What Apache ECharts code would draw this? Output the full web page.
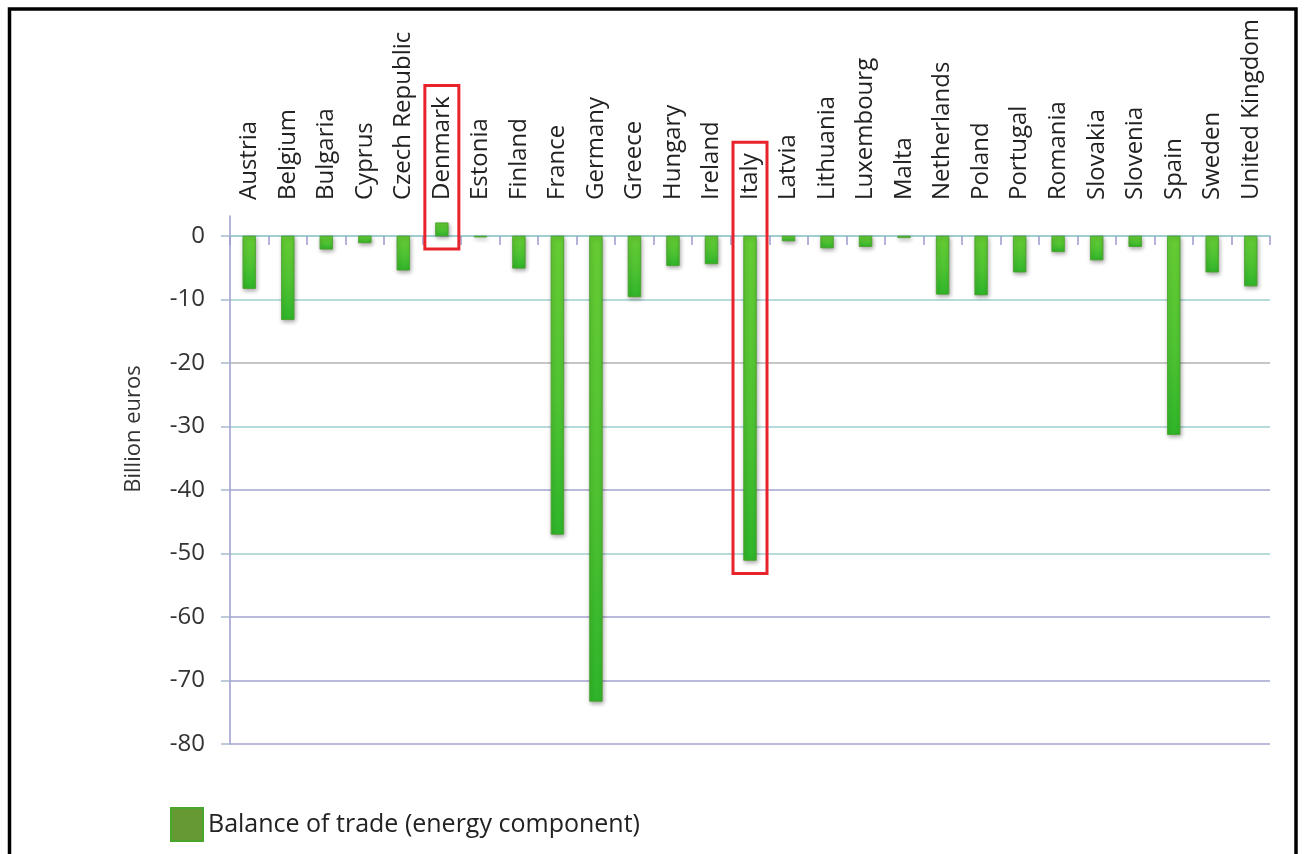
<!DOCTYPE html>
<html>
<head>
<meta charset="utf-8">
<script src="https://cdn.jsdelivr.net/npm/echarts@6/dist/echarts.min.js"></script>
<style>
  html, body { margin: 0; padding: 0; background: #ffffff; }
  #chart { width: 1304px; height: 854px; }
</style>
</head>
<body>
<div id="chart"></div>
<script>
// Balance of trade, energy component, by EU member state (billion euros)
const countries = [
  'Austria', 'Belgium', 'Bulgaria', 'Cyprus', 'Czech Republic', 'Denmark',
  'Estonia', 'Finland', 'France', 'Germany', 'Greece', 'Hungary', 'Ireland',
  'Italy', 'Latvia', 'Lithuania', 'Luxembourg', 'Malta', 'Netherlands',
  'Poland', 'Portugal', 'Romania', 'Slovakia', 'Slovenia', 'Spain', 'Sweden',
  'United Kingdom'
];
const energyBalance = [
  -8.3, -13.2, -2.1, -1.1, -5.4, 2.1,
  -0.2, -5.1, -47.0, -73.3, -9.6, -4.7, -4.4,
  -51.1, -0.8, -1.9, -1.7, -0.3, -9.2,
  -9.3, -5.7, -2.5, -3.8, -1.7, -31.3, -5.7,
  -7.9
];
const yTicks = [-80, -70, -60, -50, -40, -30, -20, -10, 0];
const highlighted = ['Denmark', 'Italy'];
const seriesName = 'Balance of trade (energy component)';
const axisTitle = 'Billion euros';

const FONT = '"Open Sans", "Noto Sans", sans-serif';
const CAT_FONT_SIZE = 24;
const CAT_MARGIN = 16;

const chart = echarts.init(document.getElementById('chart'), null, { renderer: 'canvas' });

const option = {
  animation: false,
  backgroundColor: '#ffffff',
  grid: { left: 230, right: 34, top: 216, bottom: 110, containLabel: false },
  legend: {
    left: 165,
    top: 802,
    itemWidth: 32,
    itemHeight: 33,
    icon: 'rect',
    data: [{ name: seriesName, itemStyle: { color: '#669933' } }],
    textStyle: { fontFamily: FONT, fontSize: 25, color: '#222222' }
  },
  xAxis: [
    {
      type: 'category',
      data: countries,
      position: 'top',
      axisLine: { show: false, onZero: false },
      axisTick: { show: false },
      axisLabel: {
        interval: 0, rotate: -90, margin: CAT_MARGIN,
        fontFamily: FONT, fontSize: CAT_FONT_SIZE, color: '#222222'
      }
    },
    {
      // zero line with category separators
      type: 'category',
      data: countries,
      position: 'bottom',
      axisLine: { show: true, onZero: true, onZeroAxisIndex: 0, lineStyle: { color: '#99c9cc', width: 1.5 } },
      axisTick: { show: true, interval: 0, length: 9, lineStyle: { color: '#9c9ccf', width: 1.5 } },
      axisLabel: { show: false }
    }
  ],
  yAxis: {
    type: 'value',
    min: yTicks[0],
    max: 3.15,
    interval: 10,
    axisLine: { show: true, lineStyle: { color: '#9c9ccf', width: 1.5 } },
    axisTick: { show: true, length: 9, customValues: yTicks, lineStyle: { color: '#a9b9cc', width: 1.5 } },
    axisLabel: {
      customValues: yTicks,
      margin: 25,
      fontFamily: FONT, fontSize: 24, color: '#333333'
    },
    splitLine: {
      show: true,
      lineStyle: {
        width: 1.5,
        color: ['#a3a3cf', '#a3a3cf', '#a3a3cf', '#9fcfcf', '#a3a3cf',
                '#9fcfcf', '#b3b3b3', '#9fcfcf', '#9fcfcf', 'rgba(0,0,0,0)']
      }
    }
  },
  series: [{
    name: seriesName,
    type: 'bar',
    xAxisIndex: 0,
    barWidth: 13,
    data: energyBalance,
    itemStyle: {
      color: new echarts.graphic.LinearGradient(0, 0, 0, 1, [
        { offset: 0, color: '#66cc33' },
        { offset: 0.55, color: '#4fc332' },
        { offset: 1, color: '#2fb52a' }
      ]),
      borderColor: '#4aa52c',
      borderWidth: 0.6,
      shadowColor: 'rgba(0,0,0,0.35)',
      shadowBlur: 4,
      shadowOffsetX: 1,
      shadowOffsetY: 2
    }
  }],
  graphic: [
    {
      type: 'text',
      x: 134,
      y: 429,
      rotation: Math.PI / 2,
      style: {
        text: axisTitle, fontFamily: FONT, fontSize: 22, fill: '#333333',
        align: 'center', verticalAlign: 'middle'
      }
    },
    {
      type: 'rect',
      shape: { x: 9.5, y: 9, width: 1286.5, height: 900 },
      style: { fill: 'none', stroke: '#000000', lineWidth: 3.5 },
      silent: true
    }
  ]
};

chart.setOption(option);

// Red frames around the highlighted countries: label plus bar
const measure = document.createElement('canvas').getContext('2d');
measure.font = CAT_FONT_SIZE + 'px ' + FONT;
const gridTop = chart.convertToPixel({ seriesIndex: 0 }, [0, 3.15])[1];
const frames = highlighted.map(function (name) {
  const v = energyBalance[countries.indexOf(name)];
  const zero = chart.convertToPixel({ seriesIndex: 0 }, [name, 0]);
  const end = chart.convertToPixel({ seriesIndex: 0 }, [name, v]);
  const labelTop = gridTop - CAT_MARGIN - measure.measureText(name).width;
  const top = labelTop - 11;
  const bottom = Math.max(zero[1], end[1]) + 13;
  return {
    type: 'rect',
    shape: { x: zero[0] - 17, y: top, width: 34, height: bottom - top },
    style: { fill: 'none', stroke: '#e8232b', lineWidth: 3 },
    z: 100,
    silent: true
  };
});
chart.setOption({ graphic: option.graphic.concat(frames) });
</script>
</body>
</html>
